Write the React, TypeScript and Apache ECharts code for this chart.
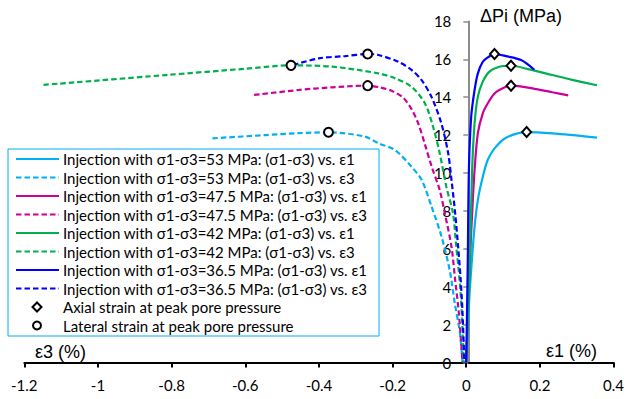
import React, { useEffect, useRef } from 'react';
import * as echarts from 'echarts';

type P = [number, number];

// Confining levels (σ1-σ3, MPa) and colours
const levels = ['53', '47.5', '42', '36.5'];
const colors = ['#00B0F0', '#CC0099', '#00B050', '#0000FF'];

// (σ1-σ3) vs ε1 (axial strain, %)  -> [strain, ΔPi]
const axial53: P[] = [[0, 0], [0.0046, 1.89], [0.0091, 3.65], [0.0154, 5.4], [0.0227, 7.17], [0.0316, 8.58], [0.045, 9.8], [0.0586, 10.7], [0.077, 11.3], [0.108, 11.86], [0.164, 12.16], [0.234, 12.09], [0.355, 11.87]];
const axial475: P[] = [[0, 0], [0.009, 5], [0.018, 8.6], [0.0227, 10.16], [0.0316, 12.1], [0.045, 13.15], [0.0586, 13.68], [0.0768, 14.2], [0.099, 14.47], [0.1216, 14.61], [0.18, 14.47], [0.234, 14.26], [0.277, 14.1]];
const axial42: P[] = [[0, 0], [0.01, 5.5], [0.016, 10.16], [0.0227, 12.62], [0.0316, 14.03], [0.045, 14.82], [0.063, 15.35], [0.09, 15.61], [0.1216, 15.66], [0.171, 15.47], [0.234, 15.17], [0.285, 14.93], [0.355, 14.63]];
const axial365: P[] = [[0, 0], [0.004, 5], [0.0073, 10.2], [0.0135, 12.97], [0.0227, 14.38], [0.0316, 15.26], [0.045, 15.87], [0.0586, 16.1], [0.0768, 16.28], [0.108, 16.17], [0.149, 15.96], [0.185, 15.45]];

// (σ1-σ3) vs ε3 (lateral strain, %)
const lateral53: P[] = [[-0.689, 11.83], [-0.545, 12.0], [-0.455, 12.1], [-0.374, 12.15], [-0.275, 11.92], [-0.2386, 11.57], [-0.1935, 11.21], [-0.1486, 10.33], [-0.121, 9.63], [-0.094, 8.22], [-0.067, 6.64], [-0.045, 4.88], [-0.031, 3.12], [-0.017, 1.54], [-0.01, 0]];
const lateral475: P[] = [[-0.576, 14.12], [-0.455, 14.38], [-0.365, 14.52], [-0.2676, 14.61], [-0.235, 14.52], [-0.2, 14.32], [-0.17, 13.95], [-0.148, 13.35], [-0.13, 12.6], [-0.112, 11.5], [-0.094, 10.35], [-0.072, 9.1], [-0.058, 7.87], [-0.04, 6.11], [-0.03, 4.35], [-0.02, 2.6], [-0.01, 0]];
const lateral42: P[] = [[-1.148, 14.65], [-0.815, 15.17], [-0.6, 15.5], [-0.4757, 15.68], [-0.364, 15.61], [-0.2386, 15.26], [-0.1935, 15.0], [-0.1486, 14.55], [-0.1124, 13.68], [-0.09, 12.44], [-0.072, 11.04], [-0.054, 9.28], [-0.036, 7.87], [-0.027, 6.11], [-0.018, 4.35], [-0.012, 2.6], [-0.007, 0]];
const lateral365: P[] = [[-0.47, 15.7], [-0.4, 16.05], [-0.328, 16.17], [-0.2676, 16.28], [-0.2386, 16.23], [-0.1846, 15.87], [-0.1486, 15.44], [-0.1216, 14.91], [-0.0946, 14.03], [-0.0676, 12.62], [-0.049, 11.04], [-0.04, 9.63], [-0.03, 7.87], [-0.022, 6.11], [-0.015, 4.35], [-0.01, 2.6], [-0.005, 0]];

// Peak pore pressure markers
const axialPeaks: P[] = [[0.164, 12.16], [0.1216, 14.61], [0.1216, 15.66], [0.0768, 16.28]];
const lateralPeaks: P[] = [[-0.374, 12.15], [-0.2676, 14.61], [-0.4757, 15.68], [-0.2676, 16.28]];

const axialData = [axial53, axial475, axial42, axial365];
const lateralData = [lateral53, lateral475, lateral42, lateral365];

const axialPeakName = 'Axial strain at peak pore pressure';
const lateralPeakName = 'Lateral strain at peak pore pressure';

const xMin = -1.2;
const xMax = 0.4;
const xInterval = 0.2;
const yMin = 0;
const yMax = 18;
const yInterval = 2;

const FONT = 'Lato, "Open Sans", sans-serif';
const TITLE_FONT = '"Liberation Sans", Arial, sans-serif';
const DASH = [5.5, 3];

export default function App() {
  const ref = useRef<HTMLDivElement>(null);

  useEffect(() => {
    if (!ref.current) return;
    const chart = echarts.init(ref.current, undefined, { renderer: 'svg' });

    const gridLeft = 24.3;
    const gridRight = 10.7;
    const plotW = 627 - gridLeft - gridRight;
    // y axis is drawn at x = 0 of the strain axis
    const yAxisOffset = -((0 - xMin) / (xMax - xMin)) * plotW;

    const series: any[] = [];
    const legendEntries: { name: string; color: string; dashed: boolean }[] = [];
    levels.forEach((lv, i) => {
      const nA = `Injection with σ1-σ3=${lv} MPa: (σ1-σ3) vs. ε1`;
      const nL = `Injection with σ1-σ3=${lv} MPa: (σ1-σ3) vs. ε3`;
      legendEntries.push({ name: nA, color: colors[i], dashed: false });
      legendEntries.push({ name: nL, color: colors[i], dashed: true });
      series.push({
        name: nA, type: 'line', data: axialData[i], symbol: 'none', smooth: 0.3,
        lineStyle: { color: colors[i], width: 2.2 }, itemStyle: { color: colors[i] }, z: 2,
      });
      series.push({
        name: nL, type: 'line', data: lateralData[i], symbol: 'none', smooth: 0.3,
        lineStyle: { color: colors[i], width: 2.2, type: DASH }, itemStyle: { color: colors[i] }, z: 2,
      });
    });
    series.push({
      name: axialPeakName, type: 'scatter', data: axialPeaks, symbol: 'diamond', symbolSize: [9, 10],
      itemStyle: { color: '#fff', borderColor: '#000', borderWidth: 2, opacity: 1 }, z: 5,
    });
    series.push({
      name: lateralPeakName, type: 'scatter', data: lateralPeaks, symbol: 'circle', symbolSize: 9,
      itemStyle: { color: '#fff', borderColor: '#000', borderWidth: 2, opacity: 1 }, z: 5,
    });

    // Manual legend (box, samples, texts)
    const lgLeft = 8, lgTop = 149, lgW = 371, lgH = 187;
    const row0 = 159, rowStep = 18.5;
    const lgChildren: any[] = [
      { type: 'rect', shape: { x: lgLeft, y: lgTop, width: lgW, height: lgH }, style: { fill: '#fff', stroke: '#00B0F0', lineWidth: 1 } },
    ];
    legendEntries.forEach((e, i) => {
      const y = row0 + i * rowStep;
      lgChildren.push({ type: 'line', shape: { x1: 16, y1: y, x2: 59, y2: y }, style: { stroke: e.color, lineWidth: 2.2, lineDash: e.dashed ? DASH : null } });
      lgChildren.push({ type: 'text', x: 63, y, style: { text: e.name, font: `15px ${FONT}`, fill: '#000', verticalAlign: 'middle', align: 'left' } });
    });
    const yA = row0 + 8 * rowStep;
    const yL = row0 + 9 * rowStep;
    lgChildren.push({ type: 'polygon', shape: { points: [[37, yA - 4.5], [41.5, yA], [37, yA + 4.5], [32.5, yA]] }, style: { fill: '#fff', stroke: '#000', lineWidth: 2 } });
    lgChildren.push({ type: 'text', x: 63, y: yA, style: { text: axialPeakName, font: `15px ${FONT}`, fill: '#000', verticalAlign: 'middle' } });
    lgChildren.push({ type: 'circle', shape: { cx: 37, cy: yL, r: 4 }, style: { fill: '#fff', stroke: '#000', lineWidth: 2 } });
    lgChildren.push({ type: 'text', x: 63, y: yL, style: { text: lateralPeakName, font: `15px ${FONT}`, fill: '#000', verticalAlign: 'middle' } });

    chart.setOption({
      animation: false,
      backgroundColor: '#fff',
      grid: { left: gridLeft, right: gridRight, top: 21.4, bottom: 36.5, containLabel: false },
      xAxis: {
        type: 'value', min: xMin, max: xMax, interval: xInterval,
        axisLine: { onZero: false, lineStyle: { color: '#000', width: 2 } },
        axisTick: { show: true, length: 5, lineStyle: { color: '#000', width: 2 } },
        axisLabel: { color: '#000', fontSize: 15, fontFamily: FONT, margin: 15 },
        splitLine: { show: false },
      },
      yAxis: {
        type: 'value', min: yMin, max: yMax, interval: yInterval, position: 'left', offset: yAxisOffset,
        axisLine: { show: true, onZero: false, lineStyle: { color: '#8C8C8C', width: 2 } },
        axisTick: { show: true, length: 5, lineStyle: { color: '#8C8C8C', width: 1.5 } },
        axisLabel: { color: '#000', fontSize: 15, fontFamily: FONT, margin: 17 },
        splitLine: { show: false },
      },
      graphic: [
        { type: 'text', x: 480, y: 16, style: { text: 'ΔPi (MPa)', font: `18px ${TITLE_FONT}`, fill: '#000', verticalAlign: 'middle' }, z: 10 },
        { type: 'text', x: 546, y: 351, style: { text: 'ε1 (%)', font: `18px ${TITLE_FONT}`, fill: '#000', verticalAlign: 'middle' }, z: 10 },
        { type: 'text', x: 35, y: 352, style: { text: 'ε3 (%)', font: `18px ${TITLE_FONT}`, fill: '#000', verticalAlign: 'middle' }, z: 10 },
        { type: 'group', children: lgChildren, z: 20 },
      ],
      series,
    });

    return () => chart.dispose();
  }, []);

  return <div ref={ref} style={{ position: 'absolute', left: 0, top: 0, width: 627, height: 399 }} />;
}
